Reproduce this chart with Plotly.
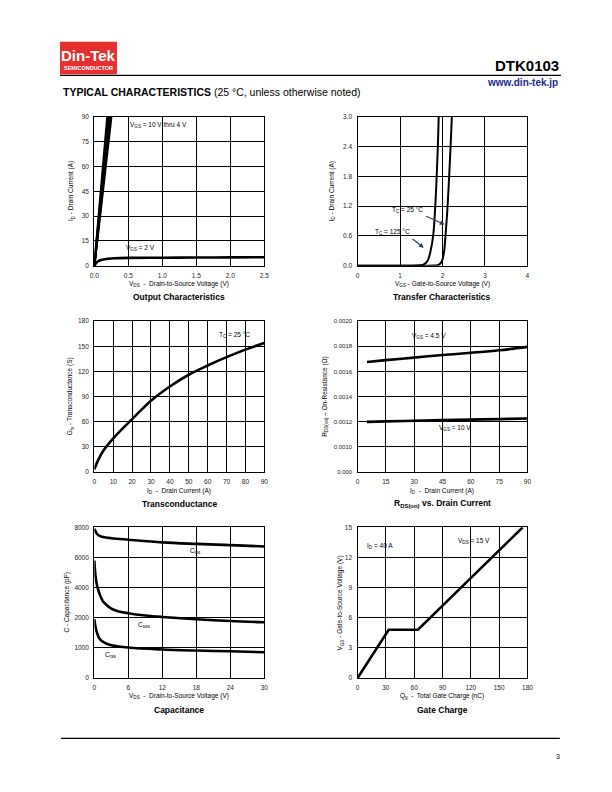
import plotly.graph_objects as go

# ---------------- data ----------------
# Output characteristics
out_vds_hi = [0.0, 0.19, 0.205, 0.22, 0.235, 0.25]   # end points of VGS 10..4 V lines at 90 A
out_vgs_hi = ["10 V", "8 V", "6 V", "5 V", "4 V"]
out_id_top = 90
out_vds_2v = [0, 0.02, 0.05, 0.1, 0.15, 0.2, 0.3, 0.5, 1.0, 1.5, 2.0, 2.5]
out_id_2v = [0, 1.2, 2.5, 3.4, 3.9, 4.2, 4.5, 4.7, 4.8, 4.9, 5.0, 5.1]

# Transfer characteristics
tr_vgs_125 = [0, 0.5, 1.0, 1.4, 1.55, 1.65, 1.72, 1.78, 1.83, 1.89, 1.91]
tr_id_125 = [0, 0, 0, 0.005, 0.02, 0.1, 0.3, 0.6, 1.2, 2.4, 3.0]
tr_vgs_25 = [0, 0.5, 1.0, 1.5, 1.8, 1.92, 1.99, 2.04, 2.07, 2.12, 2.19, 2.22]
tr_id_25 = [0, 0, 0, 0, 0.003, 0.02, 0.1, 0.3, 0.6, 1.2, 2.4, 3.0]

# Transconductance
gfs_id = [0, 2, 5, 10, 20, 30, 40, 50, 60, 70, 80, 90]
gfs_val = [3, 14, 26, 40, 63, 85, 102, 116, 127, 137, 146, 154]

# RDS(on) vs drain current
rds_id = [5, 15, 30, 45, 60, 75, 90]
rds_45 = [0.001675, 0.00169, 0.00171, 0.00173, 0.001748, 0.001768, 0.001795]
rds_10 = [0.001198, 0.001202, 0.001207, 0.001212, 0.001216, 0.00122, 0.001225]

# Capacitance
cap_vds = [0, 0.2, 0.5, 1, 2, 3, 6, 12, 18, 24, 30]
cap_ciss = [7900, 7750, 7550, 7420, 7330, 7280, 7180, 7000, 6900, 6820, 6730]
coss_vds = [0, 0.2, 0.5, 1, 1.5, 2, 3, 4, 6, 9, 12, 18, 24, 30]
cap_coss = [5800, 4800, 4100, 3500, 3100, 2900, 2600, 2450, 2300, 2150, 2050, 1950, 1890, 1850]
cap_crss = [1950, 1700, 1480, 1280, 1150, 1090, 1010, 945, 910, 885, 855]
cap_ticks = [0, 1000, 2000, 4000, 6000, 8000]

# Gate charge
qg = [0, 33, 64, 175]
vgs_q = [0, 4.8, 4.8, 15]

FONT = "Liberation Sans, Arial, sans-serif"
NARROW = "Liberation Sans Narrow, Arial Narrow, Liberation Sans, sans-serif"

def px(x):
    return x / 612.0

def py(y):
    return 1 - y / 792.0

# plot areas in page pixels (left, right, top, bottom)
areas = [
    (91, 264, 114, 264),
    (359, 532, 114, 264),
    (91, 264, 320, 472),
    (359, 532, 320, 472),
    (91, 264, 528, 680),
    (359, 532, 528, 680),
]

def cap_t(c):
    # piecewise vertical scale of the capacitance chart
    return c / 1000.0 if c <= 2000 else 2 + (c - 2000) / 2000.0

fig = go.Figure()
LW = 2.6
line = dict(color="black", width=LW)

# chart 1
for i in range(len(out_vgs_hi)):
    fig.add_trace(go.Scatter(x=[0, out_vds_hi[i + 1]], y=[0, out_id_top], mode="lines",
                             line=dict(color="black", width=2.2), xaxis="x", yaxis="y",
                             name=out_vgs_hi[i]))
fig.add_trace(go.Scatter(x=out_vds_2v, y=out_id_2v, mode="lines", line_shape="spline",
                         line=line, xaxis="x", yaxis="y"))
# chart 2
fig.add_trace(go.Scatter(x=tr_vgs_125, y=tr_id_125, mode="lines", line_shape="spline",
                         line=dict(color="black", width=2), xaxis="x2", yaxis="y2"))
fig.add_trace(go.Scatter(x=tr_vgs_25, y=tr_id_25, mode="lines", line_shape="spline",
                         line=dict(color="black", width=2), xaxis="x2", yaxis="y2"))
# chart 3
fig.add_trace(go.Scatter(x=gfs_id, y=gfs_val, mode="lines", line_shape="spline",
                         line=line, xaxis="x3", yaxis="y3"))
# chart 4
fig.add_trace(go.Scatter(x=rds_id, y=rds_45, mode="lines", line_shape="spline",
                         line=line, xaxis="x4", yaxis="y4"))
fig.add_trace(go.Scatter(x=rds_id, y=rds_10, mode="lines", line_shape="spline",
                         line=line, xaxis="x4", yaxis="y4"))
# chart 5
fig.add_trace(go.Scatter(x=cap_vds, y=[cap_t(c) for c in cap_ciss], mode="lines",
                         line_shape="spline", line=line, xaxis="x5", yaxis="y5"))
fig.add_trace(go.Scatter(x=coss_vds, y=[cap_t(c) for c in cap_coss], mode="lines",
                         line_shape="spline", line=line, xaxis="x5", yaxis="y5"))
fig.add_trace(go.Scatter(x=cap_vds, y=[cap_t(c) for c in cap_crss], mode="lines",
                         line_shape="spline", line=line, xaxis="x5", yaxis="y5"))
# chart 6
fig.add_trace(go.Scatter(x=qg, y=vgs_q, mode="lines", line=line, xaxis="x6", yaxis="y6"))

tickfont = dict(family=FONT, size=6.5, color="#222")

def axis_common():
    return dict(showline=True, linecolor="black", linewidth=1.4, mirror=True,
                showgrid=True, gridcolor="black", gridwidth=1.2, zeroline=False,
                ticks="", tickfont=tickfont, fixedrange=True, ticklabelstandoff=3)

xcfg = [
    dict(range=[0, 2.5], tickvals=[0, 0.5, 1, 1.5, 2, 2.5], tickformat=".1f"),
    dict(range=[0, 4], tickvals=[0, 1, 2, 3, 4]),
    dict(range=[0, 90], tickvals=list(range(0, 91, 10))),
    dict(range=[0, 90], tickvals=list(range(0, 91, 15))),
    dict(range=[0, 30], tickvals=list(range(0, 31, 6))),
    dict(range=[0, 180], tickvals=list(range(0, 181, 30))),
]
ycfg = [
    dict(range=[0, 90], tickvals=list(range(0, 91, 15))),
    dict(range=[0, 3], tickvals=[0, 0.6, 1.2, 1.8, 2.4, 3.0], tickformat=".1f"),
    dict(range=[0, 180], tickvals=list(range(0, 181, 30))),
    dict(range=[0.0008, 0.0020], tickvals=[0.0008, 0.0010, 0.0012, 0.0014, 0.0016, 0.0018, 0.0020],
         ticktext=["0.000", "0.0010", "0.0012", "0.0014", "0.0016", "0.0018", "0.0020"],
         tickfont=dict(family=FONT, size=6, color="#222")),
    dict(range=[0, 5], tickvals=[cap_t(c) for c in cap_ticks], ticktext=[str(c) for c in cap_ticks]),
    dict(range=[0, 15], tickvals=list(range(0, 16, 3))),
]

layout = dict(width=612, height=792, margin=dict(l=0, r=0, t=0, b=0),
              paper_bgcolor="white", plot_bgcolor="white", showlegend=False,
              font=dict(family=FONT, color="black"))
for i, (l, r, t, b) in enumerate(areas):
    n = "" if i == 0 else str(i + 1)
    xa = axis_common(); xa.update(xcfg[i])
    xa.update(domain=[px(l), px(r)], anchor="y" + n)
    ya = axis_common(); ya.update(ycfg[i])
    ya.update(domain=[py(b), py(t)], anchor="x" + n)
    layout["xaxis" + n] = xa
    layout["yaxis" + n] = ya
fig.update_layout(**layout)

ann = []

def A(text, x, y, size=7, xref="paper", yref="paper", bold=False, family=FONT,
      xanchor="center", yanchor="middle", angle=0, color="black"):
    ann.append(dict(text=("<b>%s</b>" % text) if bold else text, x=x, y=y, xref=xref, yref=yref,
                    showarrow=False, font=dict(family=family, size=size, color=color),
                    xanchor=xanchor, yanchor=yanchor, textangle=angle))

# axis titles and chart titles
xt = ["V<sub>DS</sub>  -  Drain-to-Source Voltage (V)", "V<sub>GS</sub> - Gate-to-Source Voltage (V)",
      "I<sub>D</sub>  -  Drain Current (A)", "I<sub>D</sub>  -  Drain Current (A)",
      "V<sub>DS</sub>  -  Drain-to-Source Voltage (V)", "Q<sub>g</sub>  -  Total Gate Charge (nC)"]
yt = ["I<sub>D</sub> - Drain Current (A)", "I<sub>D</sub> - Drain Current (A)",
      "G<sub>fs</sub> - Transconductance (S)", "R<sub>DS(on)</sub> – On-Resistance (Ω)",
      "C - Capacitance (pF)", "V<sub>GS</sub> - Gate-to-Source Voltage (V)"]
ct = ["Output Characteristics", "Transfer Characteristics", "Transconductance",
      "R<sub>DS(on)</sub> vs. Drain Current", "Capacitance", "Gate Charge"]
xt_y = [283, 283, 491, 491, 698, 698]
ct_y = [296, 296, 504, 504, 712, 712]
yt_x = [68, 333, 66, 325, 63, 341]
for i, (l, r, t, b) in enumerate(areas):
    A(xt[i], px((l + r) / 2), py(xt_y[i]), size=6.5)
    A(ct[i], px((l + r) / 2), py(ct_y[i]), size=8.5, bold=True, family=NARROW)
    A(yt[i], px(yt_x[i]), py((t + b) / 2), size=6.5, angle=-90)

# in-chart labels
A("V<sub>GS</sub> = 10 V thru 4 V", 0.5, 85, size=6.5, xref="x", yref="y", xanchor="left")
A("V<sub>GS</sub> = 2 V", 0.43, 10.5, size=6.5, xref="x", yref="y", xanchor="left")
A("T<sub>C</sub> = 25 °C", 1.18, 1.13, size=6.5, xref="x2", yref="y2")
A("T<sub>C</sub> = 125 °C", 0.83, 0.68, size=6.5, xref="x2", yref="y2")
ann.append(dict(x=2.05, y=0.83, ax=1.58, ay=1.01, xref="x2", yref="y2", axref="x2", ayref="y2",
                showarrow=True, arrowhead=2, arrowsize=0.8, arrowwidth=1.2, text=""))
ann.append(dict(x=1.56, y=0.36, ax=1.26, ay=0.56, xref="x2", yref="y2", axref="x2", ayref="y2",
                showarrow=True, arrowhead=2, arrowsize=0.8, arrowwidth=1.2, text=""))
A("T<sub>C</sub> = 25 °C", 74, 163, size=6.5, xref="x3", yref="y3")
A("V<sub>GS</sub> = 4.5 V", 37.6, 0.00188, size=6.5, xref="x4", yref="y4")
A("V<sub>GS</sub> = 10 V", 51.5, 0.001146, size=6.5, xref="x4", yref="y4")
A("C<sub>iss</sub>", 17.9, 4.22, size=6.5, xref="x5", yref="y5")
A("C<sub>oss</sub>", 8.8, 1.76, size=6.5, xref="x5", yref="y5")
A("C<sub>rss</sub>", 2.8, 0.76, size=6.5, xref="x5", yref="y5")
A("I<sub>D</sub> = 40 A", 23.9, 13.1, size=6.5, xref="x6", yref="y6")
A("V<sub>DS</sub> = 15 V", 123.8, 13.6, size=6.5, xref="x6", yref="y6")

# page header / footer
A("Din-Tek", px(85), py(52), size=15, bold=True, color="white")
A("SEMICONDUCTOR", px(85), py(65), size=5.5, bold=True, color="white")
A("DTK0103", px(566), py(62), size=15, bold=True, xanchor="right")
A("www.din-tek.jp", px(565), py(79), size=10, bold=True, xanchor="right", color="#1b2a8c")
A("<b>TYPICAL CHARACTERISTICS</b> (25 °C, unless otherwise noted)", px(57), py(89),
  size=10.5, xanchor="left")
A("3", px(563), py(759), size=7, xanchor="center")

shapes = [
    dict(type="rect", xref="paper", yref="paper", x0=px(56), x1=px(114), y0=py(71), y1=py(38),
         fillcolor="#e53030", line=dict(width=0), layer="below"),
    dict(type="line", xref="paper", yref="paper", x0=px(56), x1=px(566), y0=py(72), y1=py(72),
         line=dict(color="black", width=1.2)),
    dict(type="line", xref="paper", yref="paper", x0=px(57), x1=px(565), y0=py(741), y1=py(741),
         line=dict(color="black", width=1.2)),
]
fig.update_layout(annotations=ann, shapes=shapes)

fig.write_html("out.html")
